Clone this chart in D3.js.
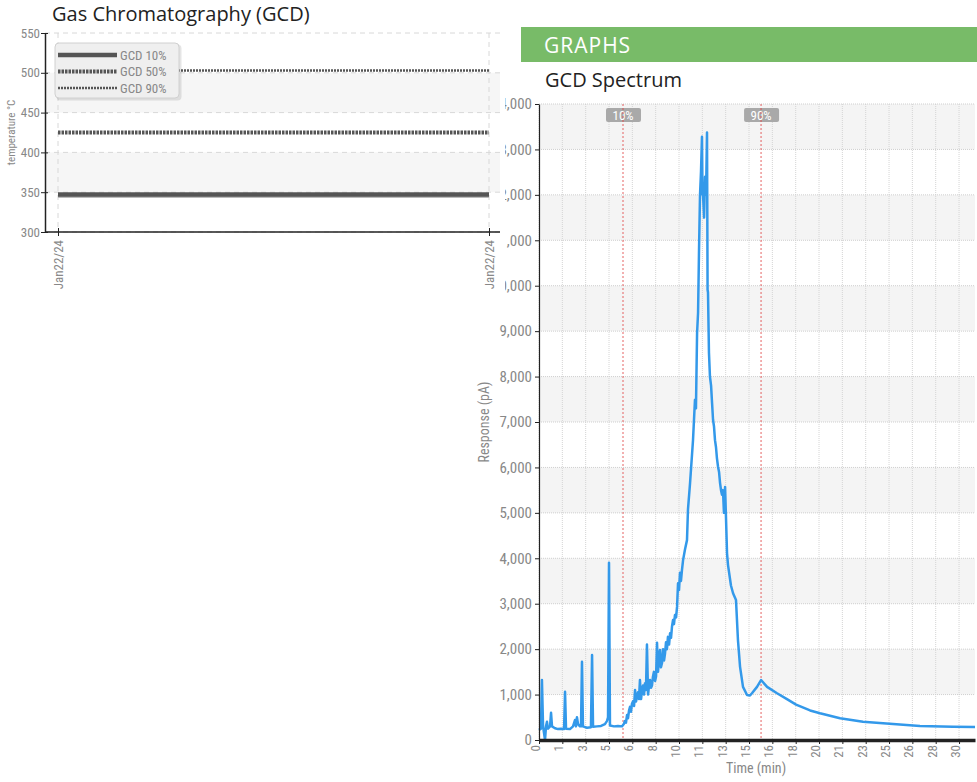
<!DOCTYPE html>
<html>
<head>
<meta charset="utf-8">
<script src="https://cdn.jsdelivr.net/npm/d3@7"></script>
<style>
    body { margin: 0; background: #fff; }
    .tick text, .legendText, .axisText { font-family: "Roboto Condensed", "Liberation Sans Narrow", "DejaVu Sans Condensed", Roboto, sans-serif; font-stretch: condensed; fill: #888; }
    .title { font-family: "Open Sans", "DejaVu Sans", sans-serif; font-size: 20px; fill: #222; }
</style>
</head>
<body>
<div id="page"></div>
<script>
// ---- data: Gas Chromatography (GCD) ----
let gcdDates = ["Jan22/24", "Jan22/24"];
let gcd10 = [347, 347];
let gcd50 = [425, 425];
let gcd90 = [503, 503];
let tempTicks = [300, 350, 400, 450, 500, 550];

// ---- data: GCD Spectrum (time in min, response in pA) ----
let specTime = [0, 0.14, 0.21, 0.29, 0.36, 0.43, 0.5, 0.57, 0.64, 0.79, 0.86, 0.93, 1.14, 1.36, 1.57, 1.79, 1.86, 1.93,
    2.21, 2.43, 2.57, 2.64, 2.71, 2.79, 2.93, 3.0, 3.07, 3.14, 3.43, 3.71, 3.79, 3.86, 4.14, 4.43, 4.71, 4.86, 4.93, 5.0,
    5.07, 5.36, 5.64, 5.93,
    6.07, 6.14, 6.21, 6.29, 6.36, 6.43, 6.5, 6.57, 6.64, 6.71, 6.79, 6.86, 6.93, 7.0, 7.07, 7.14, 7.21, 7.29, 7.36, 7.43,
    7.5, 7.57, 7.64, 7.71, 7.79, 7.86, 7.93, 8.0, 8.07, 8.14, 8.21, 8.29, 8.36, 8.43,
    8.5, 8.57, 8.64, 8.71, 8.79, 8.86, 8.93, 9.0, 9.07, 9.14, 9.21, 9.29, 9.36, 9.43, 9.5, 9.57, 9.64, 9.71, 9.79, 9.86,
    9.93, 10.0, 10.07, 10.14, 10.21, 10.29,
    10.43, 10.57, 10.64, 10.79, 11.0, 11.14, 11.21, 11.29, 11.36, 11.43, 11.5, 11.57, 11.64, 11.68, 11.71, 11.79, 11.86, 11.93, 12.0,
    12.04, 12.07, 12.14, 12.21, 12.29, 12.36, 12.43, 12.5, 12.57, 12.64, 12.71, 12.79, 12.86, 12.93, 13.0, 13.07, 13.14,
    13.21, 13.29, 13.36, 13.43, 13.5,
    13.71, 13.86, 14.07, 14.21, 14.36, 14.57, 14.86, 15.07, 15.21, 15.57, 15.86, 16.29, 17.0, 17.71, 18.36, 19.36, 20.07,
    21.5, 23.14, 25.29, 27.21, 29.57, 31.14];
let specResponse = [220, 250, 1320, 300, 150, 0, 300, 400, 250, 300, 600, 300, 260, 240, 250, 240, 1060, 250,
    240, 300, 440, 300, 500, 350, 300, 300, 1720, 300, 270, 280, 1870, 290, 300, 310, 350, 420, 500, 3900,
    320, 300, 310, 300,
    360, 420, 380, 550, 480, 650, 730, 620, 800, 850, 750, 1100, 850, 950, 1050, 900, 1320, 900, 1100, 1200,
    1000, 1250, 1100, 2100, 1000, 1200, 1320, 1150, 1200, 1400, 1500, 1300, 1400, 2140,
    1500, 1800, 1980, 1600, 1700, 2000, 1750, 1900, 2150, 2000, 2270, 2100, 2350, 2250, 2500, 2640, 2550, 2750, 2700, 2930,
    3450, 3300, 3680, 3500, 3740, 3960,
    4200, 4400, 5070, 5660, 6600, 7490, 7300, 8960, 9400, 10800, 12000, 12510, 13280, 12000, 12050, 11500, 12400, 12000, 13370,
    9910, 9850, 8520, 8000, 7800, 7420, 7050, 6900, 6600, 6450, 6200, 6010, 5900, 5660, 5500, 5400, 5500,
    5000, 5570, 4850, 4110, 3850,
    3400, 3230, 3080, 2200, 1610, 1170, 990, 980, 1030, 1170, 1320, 1170, 1030, 900, 780, 650, 590,
    480, 400, 350, 310, 290, 285];
let timeTickLabels = ["0", "1", "3", "5", "6", "8", "10", "11", "13", "15", "16", "18", "20", "21", "23", "25", "26", "28", "30"];
let responseTicks = [0, 1000, 2000, 3000, 4000, 5000, 6000, 7000, 8000, 9000, 10000, 11000, 12000, 13000, 14000];
let cutTimes = [6.0, 15.86];
let cutLabels = ["10%", "90%"];

let svg = d3
    .select("#page")
    .append("svg")
    .attr("width", 977)
    .attr("height", 782);

// ================= right panel: GCD Spectrum =================
let right = svg.append("g");

right.append("rect")
    .attr("x", 521).attr("y", 27)
    .attr("width", 456).attr("height", 35)
    .attr("fill", "#78bb68");

right.append("text")
    .attr("x", 544).attr("y", 53)
    .attr("fill", "#fff")
    .style("font-family", "'Open Sans', 'DejaVu Sans', sans-serif")
    .style("font-size", "21px")
    .style("letter-spacing", "1px")
    .text("GRAPHS");

right.append("text")
    .attr("class", "title")
    .attr("x", 545).attr("y", 87)
    .text("GCD Spectrum");

let xTime = d3.scaleLinear().domain([0, 31.14]).range([539, 975]);
let yResp = d3.scaleLinear().domain([0, 14000]).range([740, 104]);

// alternating bands
right.append("g")
    .selectAll("rect")
    .data(responseTicks.filter(d => d % 2000 === 1000))
    .enter()
    .append("rect")
    .attr("x", xTime(0))
    .attr("y", d => yResp(d + 1000))
    .attr("width", xTime(31.14) - xTime(0))
    .attr("height", d => yResp(d) - yResp(d + 1000))
    .attr("fill", "#f4f4f4");

let timeTickValues = d3.range(timeTickLabels.length).map(i => i * 5 / 3);

// grid lines
right.append("g")
    .selectAll("line")
    .data(timeTickValues)
    .enter()
    .append("line")
    .attr("x1", d => xTime(d)).attr("x2", d => xTime(d))
    .attr("y1", yResp(14000)).attr("y2", yResp(0))
    .attr("stroke", "#d4d4d4")
    .attr("stroke-dasharray", "1,1");

right.append("g")
    .selectAll("line")
    .data(responseTicks)
    .enter()
    .append("line")
    .attr("x1", xTime(0)).attr("x2", xTime(31.14))
    .attr("y1", d => yResp(d)).attr("y2", d => yResp(d))
    .attr("stroke", "#cfcfcf")
    .attr("stroke-dasharray", "1,1");

// 10% / 90% tags, then the cut lines over them
let cutTags = right.append("g")
    .selectAll("g")
    .data(cutTimes)
    .enter()
    .append("g")
    .attr("transform", d => `translate(${xTime(d)}, 115)`);

cutTags.append("rect")
    .attr("x", -17).attr("y", -7)
    .attr("width", 35).attr("height", 14)
    .attr("rx", 2)
    .attr("fill", "#a9a9a9");

cutTags.append("text")
    .attr("class", "axisText")
    .attr("text-anchor", "middle")
    .attr("y", 4.5)
    .style("fill", "#fff")
    .style("font-size", "13px")
    .text((d, i) => cutLabels[i]);

right.append("g")
    .selectAll("line")
    .data(cutTimes)
    .enter()
    .append("line")
    .attr("x1", d => xTime(d)).attr("x2", d => xTime(d))
    .attr("y1", yResp(14000)).attr("y2", yResp(0))
    .attr("stroke", "#e04848")
    .attr("stroke-width", 1)
    .attr("stroke-opacity", 0.85)
    .attr("stroke-dasharray", "2,2");

// spectrum line
let specLine = d3.line()
    .x(d => xTime(d[0]))
    .y(d => yResp(d[1]));

right.append("path")
    .datum(specTime.map((t, i) => [t, specResponse[i]]))
    .attr("d", specLine)
    .attr("fill", "none")
    .attr("stroke", "#3399ea")
    .attr("stroke-width", 2.5)
    .attr("stroke-linejoin", "round");

// axes
let timeAxis = d3.axisBottom(xTime)
    .tickValues(timeTickValues)
    .tickFormat((d, i) => timeTickLabels[i])
    .tickSize(4)
    .tickSizeOuter(0);

let tAx = right.append("g")
    .attr("transform", `translate(0, ${yResp(0)})`)
    .call(timeAxis);
tAx.select(".domain").attr("stroke", "#222").attr("stroke-width", 3.5);
tAx.selectAll(".tick line").attr("stroke", "#222");
tAx.selectAll(".tick text")
    .style("font-size", "13px")
    .attr("transform", "rotate(-90)")
    .attr("text-anchor", "end")
    .attr("x", -5)
    .attr("y", -4)
    .attr("dy", "0.35em");

let respAxis = d3.axisLeft(yResp)
    .tickValues(responseTicks)
    .tickFormat(d3.format(","))
    .tickSize(4)
    .tickSizeOuter(0);

let rAx = right.append("g")
    .attr("transform", `translate(${xTime(0)}, 0)`)
    .call(respAxis);
rAx.select(".domain").attr("stroke", "#222").attr("stroke-width", 1.2);
rAx.selectAll(".tick line").attr("stroke", "#222");
rAx.selectAll(".tick text").style("font-size", "15px").attr("x", -7);

right.append("text")
    .attr("class", "axisText")
    .attr("transform", `translate(756, 773)`)
    .attr("text-anchor", "middle")
    .style("font-size", "14px")
    .text("Time (min)");

right.append("text")
    .attr("class", "axisText")
    .attr("transform", `translate(489, ${yResp(7000)}) rotate(-90)`)
    .attr("text-anchor", "middle")
    .style("font-size", "14px")
    .text("Response (pA)");

// ================= left panel: Gas Chromatography (GCD) =================
let left = svg.append("g");

// the left block sits over the right one
left.append("rect")
    .attr("width", 505).attr("height", 294)
    .attr("fill", "#fff");

left.append("text")
    .attr("class", "title")
    .attr("x", 52).attr("y", 21)
    .text("Gas Chromatography (GCD)");

let xDate = d3.scalePoint().domain(d3.range(gcdDates.length)).range([58, 489]);
let yTemp = d3.scaleLinear().domain([300, 550]).range([232, 33]);

left.append("g")
    .selectAll("rect")
    .data([450, 350])
    .enter()
    .append("rect")
    .attr("x", 45)
    .attr("y", d => yTemp(d + 50))
    .attr("width", 455)
    .attr("height", d => yTemp(d) - yTemp(d + 50))
    .attr("fill", "#f6f6f6");

left.append("g")
    .selectAll("line")
    .data(tempTicks)
    .enter()
    .append("line")
    .attr("x1", 45).attr("x2", 500)
    .attr("y1", d => yTemp(d)).attr("y2", d => yTemp(d))
    .attr("stroke", "#d8d8d8")
    .attr("stroke-dasharray", "5,4");

left.append("g")
    .selectAll("line")
    .data(d3.range(gcdDates.length))
    .enter()
    .append("line")
    .attr("x1", d => xDate(d)).attr("x2", d => xDate(d))
    .attr("y1", yTemp(550)).attr("y2", yTemp(300))
    .attr("stroke", "#d8d8d8")
    .attr("stroke-dasharray", "5,4");

// series lines
let seriesList = [
    { name: "GCD 10%", values: gcd10, width: 4.5, dash: null },
    { name: "GCD 50%", values: gcd50, width: 4, dash: "2.5,1" },
    { name: "GCD 90%", values: gcd90, width: 2.5, dash: "2,1" }
];

let tempLine = d3.line()
    .x((d, i) => xDate(i))
    .y(d => yTemp(d));

left.append("path")
    .attr("d", tempLine(gcd10))
    .attr("transform", "translate(0, 1.5)")
    .attr("fill", "none")
    .attr("stroke", "#bbb")
    .attr("stroke-width", 4);

left.append("g")
    .selectAll("path")
    .data(seriesList)
    .enter()
    .append("path")
    .attr("d", d => tempLine(d.values))
    .attr("fill", "none")
    .attr("stroke", "#555")
    .attr("stroke-width", d => d.width)
    .attr("stroke-dasharray", d => d.dash);

// axes
let dateAxis = d3.axisBottom(xDate)
    .tickFormat(i => gcdDates[i])
    .tickSize(4)
    .tickSizeOuter(0);

let dAx = left.append("g")
    .attr("transform", `translate(0, ${yTemp(300)})`)
    .call(dateAxis);
dAx.select(".domain").attr("d", "M45,0H500").attr("stroke", "#222").attr("stroke-width", 1.5);
dAx.selectAll(".tick line").attr("stroke", "#222").attr("y1", -4).attr("y2", 4);
dAx.selectAll(".tick text")
    .style("font-size", "13px")
    .attr("transform", "rotate(-90)")
    .attr("text-anchor", "end")
    .attr("x", -8)
    .attr("y", 0)
    .attr("dy", "0.35em");

let tempAxis = d3.axisLeft(yTemp)
    .tickValues(tempTicks)
    .tickSize(4)
    .tickSizeOuter(0);

let tmAx = left.append("g")
    .attr("transform", "translate(45, 0)")
    .call(tempAxis);
tmAx.select(".domain").attr("stroke", "#222").attr("stroke-width", 1.5);
tmAx.selectAll(".tick line").attr("stroke", "#222").attr("x1", 3);
tmAx.selectAll(".tick text").style("font-size", "13px").attr("x", -5);

left.append("text")
    .attr("class", "axisText")
    .attr("transform", `translate(15, ${yTemp(425)}) rotate(-90)`)
    .attr("text-anchor", "middle")
    .style("font-size", "11px")
    .text("temperature °C");

// legend
let legend = left.append("g").attr("transform", "translate(55, 43)");

legend.append("rect")
    .attr("x", 1.5).attr("y", 1.5)
    .attr("width", 125).attr("height", 56)
    .attr("rx", 4)
    .attr("fill", "#000")
    .attr("opacity", 0.1);

legend.append("rect")
    .attr("width", 124).attr("height", 55)
    .attr("rx", 4)
    .attr("fill", "#efefef")
    .attr("stroke", "#d0d0d0");

let legendRows = legend.selectAll(".row")
    .data(seriesList)
    .enter()
    .append("g")
    .attr("class", "row")
    .attr("transform", (d, i) => `translate(0, ${12 + i * 16.5})`);

legendRows.append("line")
    .attr("x1", 3).attr("x2", 62)
    .attr("stroke", "#555")
    .attr("stroke-width", d => d.width)
    .attr("stroke-dasharray", d => d.dash);

legendRows.append("text")
    .attr("class", "legendText")
    .attr("x", 65)
    .attr("dy", "0.35em")
    .style("font-size", "13px")
    .text(d => d.name);
</script>
</body>
</html>
